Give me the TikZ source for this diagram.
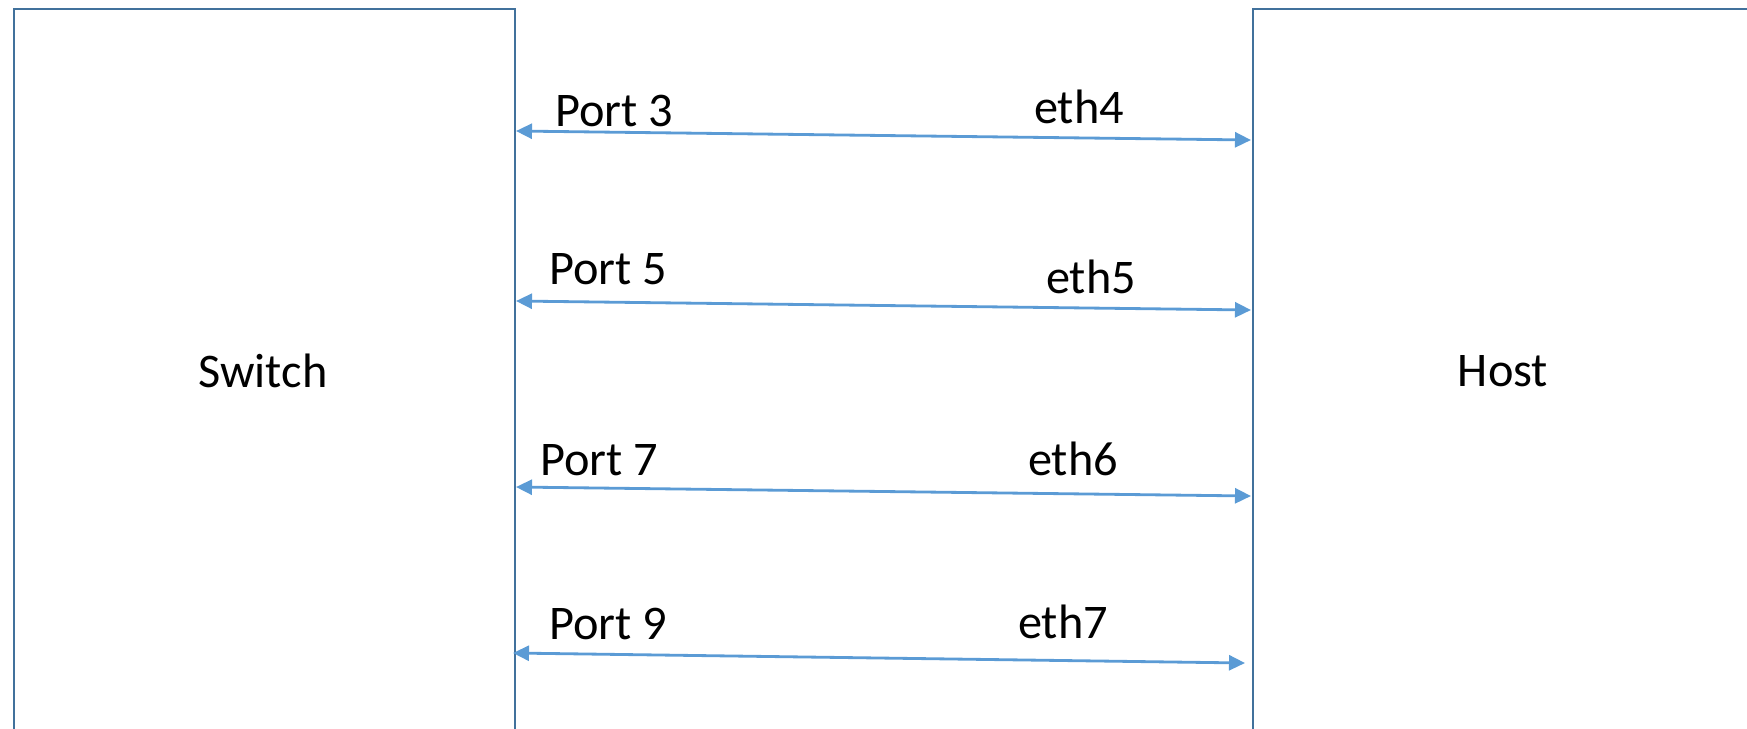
\documentclass[tikz,border=0pt]{standalone}
\usepackage{fontspec}
\setmainfont{Carlito}
\usetikzlibrary{arrows.meta, positioning}
\definecolor{boxline}{HTML}{41719C}
\definecolor{linkline}{HTML}{5B9BD5}
\tikzstyle{device} = [rectangle, draw=boxline, line width=1.2pt, inner sep=0pt]
\tikzstyle{label} = [inner sep=0pt, font=\fontsize{27.5}{33}\selectfont]
\tikzstyle{link} = [{Triangle[length=0.32cm, width=0.3cm]}-{Triangle[length=0.32cm, width=0.3cm]}, draw=linkline, line width=1.6pt]

\begin{document}
\begin{tikzpicture}[x=0.02cm, y=-0.02cm]
	% set up page
	\useasboundingbox (0,0) rectangle (1747,728);
	\clip (0,0) rectangle (1747,728);

	% set up boxes (open below the page)
	\node (switch) [device, minimum width=10.02cm, minimum height=16cm, anchor=north west] at (13,8) {};
	\node (host) [device, minimum width=12cm, minimum height=16cm, anchor=north west] at (1252,8) {};
	\node (switchtext) [label] at (263,371) {Switch};
	\node (hosttext) [label] at (1503,371) {Host};

	% set up link ends
	\coordinate (s3) at (516,131);
	\coordinate (h4) at (1251,140);
	\coordinate (s5) at (516,301);
	\coordinate (h5) at (1251,310);
	\coordinate (s7) at (516,487);
	\coordinate (h6) at (1251,496);
	\coordinate (s9) at (513,653);
	\coordinate (h7) at (1245,663);

	% set up links
	\draw [link] (s3) -- (h4);
	\draw [link] (s5) -- (h5);
	\draw [link] (s7) -- (h6);
	\draw [link] (s9) -- (h7);

	% set up port names
	\node (port3) [label] at (614,111) {Port 3};
	\node (eth4) [label] at (1079,107) {eth4};
	\node (port5) [label] at (608,269) {Port 5};
	\node (eth5) [label] at (1091,277) {eth5};
	\node (port7) [label] at (599,460) {Port 7};
	\node (eth6) [label] at (1073,459) {eth6};
	\node (port9) [label] at (608,624) {Port 9};
	\node (eth7) [label] at (1063,622) {eth7};

\end{tikzpicture}
\end{document}
